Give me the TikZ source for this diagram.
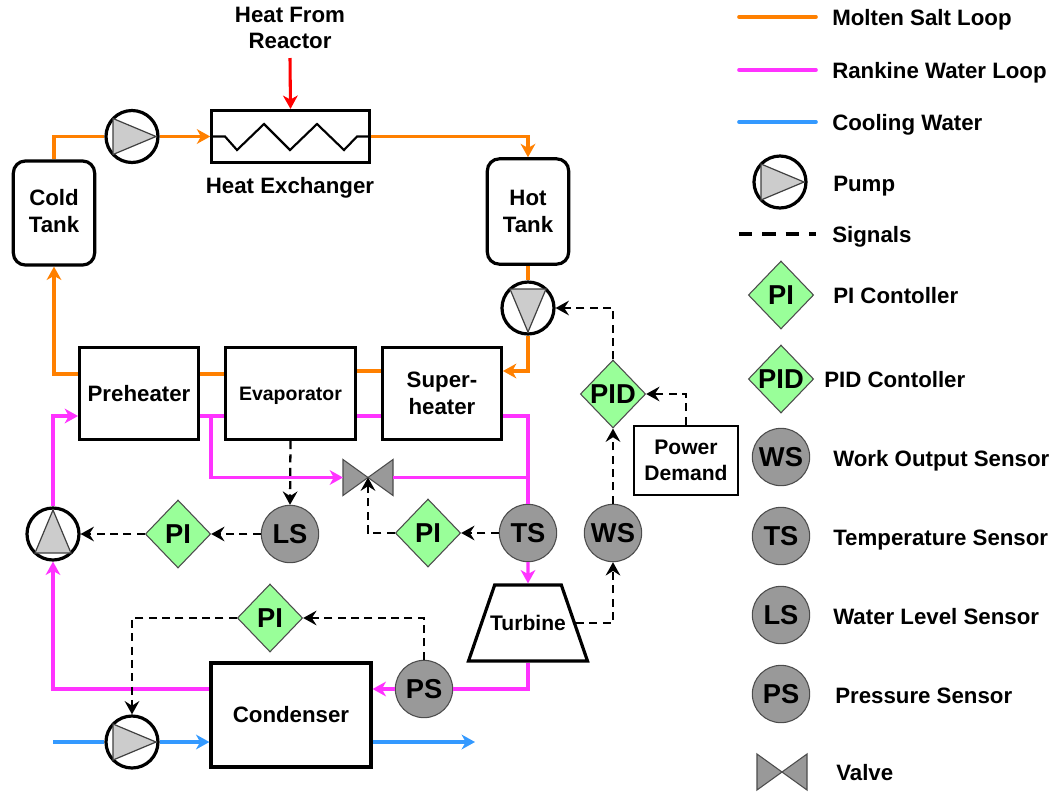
\documentclass[tikz,border=0pt]{standalone}
\usepackage{fontspec}
\setmainfont{Liberation Sans}
\usepackage{tikz}
\usetikzlibrary{arrows.meta, shapes.geometric}
\definecolor{saltcolor}{HTML}{FF8000}
\definecolor{rankinecolor}{HTML}{FF33FF}
\definecolor{coolcolor}{HTML}{3399FF}
\definecolor{picolor}{HTML}{99FF99}
\definecolor{sensorcolor}{HTML}{999999}
\tikzset{
    plain/.style={font=\fontsize{16.7}{20}\selectfont\bfseries, align=center, inner sep=0pt},
    keylabel/.style={plain, anchor=base west},
    unit/.style={plain, draw, line width=2.4pt, fill=white},
    tank/.style={unit, rounded corners=9pt, minimum width=61pt},
    pump/.style={circle, draw, line width=2.4pt, fill=white, minimum size=39pt, inner sep=0pt},
    sensor/.style={plain, circle, draw=black!70, line width=0.8pt, fill=sensorcolor, minimum size=43pt, font=\fontsize{20.5}{24}\selectfont\bfseries},
    ctrl/.style={plain, diamond, draw=black!70, line width=0.8pt, fill=picolor, minimum width=49pt, minimum height=51pt, font=\fontsize{20.5}{24}\selectfont\bfseries},
    valve/.style={minimum width=37pt, minimum height=28pt, inner sep=0pt},
    flow/.style={line width=2.3pt, -{Stealth[length=10pt,width=11pt,inset=3pt]}},
    pipe/.style={line width=2.3pt},
    keyline/.style={line width=2.7pt, line cap=round},
    signal/.style={line width=1.7pt, dash pattern=on 6pt off 4pt, -{Stealth[length=10pt,width=11pt,inset=3.5pt,fill=black]}},
    signalline/.style={line width=2.5pt, dash pattern=on 10pt off 7.5pt}
}
\begin{document}
\begin{tikzpicture}[x=0.75pt,y=-0.75pt]
    \useasboundingbox (0,0) rectangle (1058,794);

    % tanks and heat exchanger
    \node[tank, minimum height=78pt, text depth=3pt] (cold) at (54,213) {Cold\\Tank};
    \node[tank, minimum height=79pt] (hot) at (528,211.5) {Hot\\Tank};
    \node[unit, minimum width=118pt, minimum height=39pt] (hx) at (290.5,136.5) {};
    \node[plain] (hxlabel) at (290,187.5) {Heat Exchanger};
    \node[plain] (reactor) at (290,28) {Heat From\\Reactor};
    \coordinate (heatin) at (290,58);

    % steam generators
    \node[unit, minimum width=89pt, minimum height=69pt] (preheater) at (139,393.5) {Preheater};
    \node[unit, minimum width=98pt, minimum height=69pt, text depth=0pt, font=\fontsize{14.6}{18}\selectfont\bfseries] (evaporator) at (290.5,393.5) {Evaporator};
    \node[unit, minimum width=89pt, minimum height=69pt] (superheater) at (442,393.5) {Super-\\heater};

    % turbine and condenser
    \node[trapezium, draw, line width=2.4pt, trapezium angle=71, text width=50pt, text height=57pt, text depth=0pt, inner sep=0pt] (turbine) at (528,623) {};
    \node[plain, font=\fontsize{15.8}{19}\selectfont\bfseries] (turbinelabel) at (528,623) {Turbine};
    \node[unit, minimum width=120pt, minimum height=78pt] (condenser) at (291,715) {Condenser};
    \node[unit, line width=1.9pt, minimum width=78pt, minimum height=52pt, font=\fontsize{15.8}{20}\selectfont\bfseries] (demand) at (686,460.5) {Power\\Demand};

    % pumps and valve
    \node[pump] (saltpump) at (132,136.5) {};
    \node[pump] (hotpump) at (528,308) {};
    \node[pump] (waterpump) at (53,534) {};
    \node[pump] (coolpump) at (132,742) {};
    \node[pump] (keypump) at (780,182) {};
    \foreach \pumpname/\pumpangle in {saltpump/0, hotpump/-90, waterpump/90, coolpump/0, keypump/0}{
        \begin{scope}[shift={(\pumpname.center)}, rotate=\pumpangle]
            \draw[line width=0.9pt, draw=black!75, fill=black!20] (-19,-18) -- (24,0) -- (-19,18) -- cycle;
        \end{scope}
    }
    \node[valve] (bypass) at (368,477.5) {};
    \node[valve] (keyvalve) at (782,772) {};
    \foreach \valvename in {bypass, keyvalve}{
        \begin{scope}[shift={(\valvename.center)}]
            \draw[line width=0.8pt, draw=black!70, fill=sensorcolor] (-25,-18) -- (25,18) -- (25,-18) -- (-25,18) -- cycle;
        \end{scope}
    }

    % controllers and sensors
    \node[ctrl] (pifeed) at (178,534) {PI};
    \node[ctrl] (pibypass) at (428,533) {PI};
    \node[ctrl] (picool) at (270,618) {PI};
    \node[ctrl] (pid) at (613,394) {PID};
    \node[sensor] (ls) at (290,534) {LS};
    \node[sensor] (ts) at (528,533) {TS};
    \node[sensor] (ws) at (613,533) {WS};
    \node[sensor] (ps) at (424,689) {PS};

    % heat exchanger coil
    \draw[line width=1.6pt]
        (hx.west) -- (225,136.5) -- (237,150) -- (264,124) -- (290,150) -- (317,124) -- (344,150) -- (357,136.5) -- (hx.east);
    \draw[flow, red] (heatin) -- (hx.north);

    % molten salt loop
    \draw[pipe, saltcolor] (cold.north) |- (saltpump.west);
    \draw[flow, saltcolor] (saltpump.east) -- (hx.west);
    \draw[flow, saltcolor] (hx.east) -| (hot.north);
    \draw[pipe, saltcolor] (hot.south) -- (hotpump.north);
    \draw[flow, saltcolor] (hotpump.south) |- (superheater.east |- 0,371);
    \draw[pipe, saltcolor] (superheater.west |- 0,371) -- (evaporator.east |- 0,371);
    \draw[pipe, saltcolor] (evaporator.west |- 0,374) -- (preheater.east |- 0,374);
    \draw[flow, saltcolor] (preheater.west |- 0,374) -| (cold.south);

    % rankine water loop
    \coordinate (split) at (211,416);
    \coordinate (tee) at (528,477.5);
    \draw[pipe, rankinecolor] (superheater.east |- 0,416) -| (tee) -- (ts.north);
    \draw[pipe, rankinecolor] (superheater.west |- 0,416) -- (evaporator.east |- 0,416);
    \draw[pipe, rankinecolor] (evaporator.west |- 0,416) -- (preheater.east |- 0,416);
    \draw[flow, rankinecolor] (split) |- (bypass.west);
    \draw[pipe, rankinecolor] (bypass.east) -- (tee);
    \draw[flow, rankinecolor] (ts.south) -- (turbine.north);
    \draw[pipe, rankinecolor] (turbine.south) |- (ps.east);
    \draw[flow, rankinecolor] (ps.west) -- (condenser.east |- ps.west);
    \draw[flow, rankinecolor] (condenser.west |- 0,689) -| (waterpump.south);
    \draw[flow, rankinecolor] (waterpump.north) |- (preheater.west |- 0,416);

    % cooling water
    \coordinate (coolin) at (53,742);
    \coordinate (coolout) at (475,742);
    \draw[pipe, coolcolor] (coolin) -- (coolpump.west);
    \draw[flow, coolcolor] (coolpump.east) -- (condenser.west |- coolpump.east);
    \draw[flow, coolcolor] (condenser.east |- coolout) -- (coolout);

    % signals
    \draw[signal] (evaporator.south) -- (ls.north);
    \draw[signal] (ls.west) -- (pifeed.east);
    \draw[signal] (pifeed.west) -- (waterpump.east);
    \draw[signal] (ts.west) -- (pibypass.east);
    \draw[signal] (pibypass.west) -| (bypass.center);
    \draw[signal] (ps.north) |- (picool.east);
    \draw[signal] (picool.west) -| (coolpump.north);
    \draw[signal] (turbine.east) -| (ws.south);
    \draw[signal] (ws.north) -- (pid.south);
    \draw[signal] (pid.north) |- (hotpump.east);
    \draw[signal] (demand.north) |- (pid.east);

    % legend
    \coordinate (keya) at (739,17);
    \coordinate (keyb) at (816,17);
    \draw[keyline, saltcolor] (keya) -- (keyb);
    \node[keylabel] (keysalt) at (832,25) {Molten Salt Loop};
    \coordinate (keyc) at (739,70);
    \coordinate (keyd) at (816,70);
    \draw[keyline, rankinecolor] (keyc) -- (keyd);
    \node[keylabel] (keyrankine) at (832,78) {Rankine Water Loop};
    \coordinate (keye) at (739,122);
    \coordinate (keyf) at (816,122);
    \draw[keyline, coolcolor] (keye) -- (keyf);
    \node[keylabel] (keycool) at (832,130) {Cooling Water};
    \node[keylabel] (keypumplabel) at (833,191) {Pump};
    \coordinate (keyg) at (739,234);
    \coordinate (keyh) at (816,234);
    \draw[signalline] (keyg) -- (keyh);
    \node[keylabel] (keysignal) at (832,242) {Signals};
    \node[ctrl] (keypi) at (781,295) {PI};
    \node[keylabel] (keypilabel) at (833,303) {PI Contoller};
    \node[ctrl] (keypid) at (781,379) {PID};
    \node[keylabel] (keypidlabel) at (824,387) {PID Contoller};
    \node[sensor] (keyws) at (781,457) {WS};
    \node[keylabel] (keywslabel) at (833,466) {Work Output Sensor};
    \node[sensor] (keyts) at (781,536) {TS};
    \node[keylabel] (keytslabel) at (833,545) {Temperature Sensor};
    \node[sensor] (keyls) at (781,615) {LS};
    \node[keylabel] (keylslabel) at (833,624) {Water Level Sensor};
    \node[sensor] (keyps) at (781,694) {PS};
    \node[keylabel] (keypslabel) at (835,703) {Pressure Sensor};
    \node[keylabel] (keyvalvelabel) at (836,780) {Valve};
\end{tikzpicture}
\end{document}
